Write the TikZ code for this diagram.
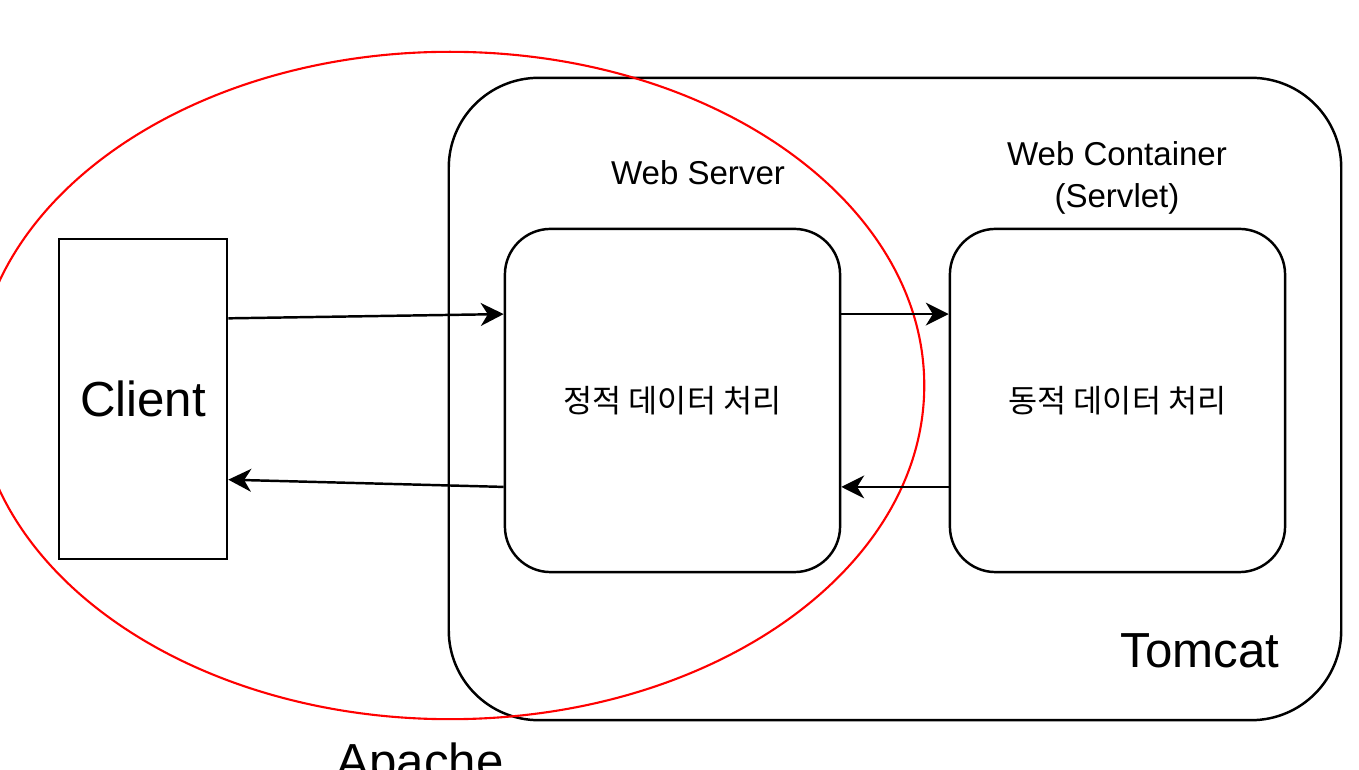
\documentclass[tikz,border=0pt]{standalone}
\usepackage{fontspec}
\setmainfont{Liberation Sans}
\newfontfamily\kr{Noto Sans CJK KR}
\usetikzlibrary{arrows.meta,calc,shapes.geometric}
\begin{document}
\begin{tikzpicture}[x=0.01cm,y=-0.01cm,
  outerbox/.style={draw, line width=0.7pt, rounded corners=25.6pt, inner sep=0pt, minimum width=8.92cm, minimum height=6.42cm},
  procbox/.style={draw, line width=0.7pt, rounded corners=13pt, inner sep=0pt, minimum width=3.35cm, minimum height=3.43cm, font=\kr\fontsize{9pt}{11pt}\selectfont},
  clientbox/.style={draw, line width=0.7pt, inner sep=0pt, minimum width=1.68cm, minimum height=3.2cm, font=\fontsize{14pt}{17pt}\selectfont},
  apacheshape/.style={draw=red, line width=0.6pt, ellipse, inner sep=0pt, minimum width=9.48cm, minimum height=6.67cm},
  biglabel/.style={font=\fontsize{14pt}{17pt}\selectfont, inner sep=0pt, anchor=base},
  smalllabel/.style={font=\fontsize{9.4pt}{11.7pt}\selectfont, inner sep=0pt, align=center},
  arr/.style={line width=0.7pt, -{Stealth[length=6.5pt, width=6.5pt, inset=2pt]}}
]
\useasboundingbox (0,0) rectangle (1359,770);

\node[outerbox] (tomcat) at (895,399) {};
\node[apacheshape] (apache) at (450,385.5) {};
\node[clientbox] (client) at (143,399) {Client};
\node[procbox] (ws) at (672.5,400.5) {정적 데이터 처리};
\node[procbox] (wc) at (1117.5,400.5) {동적 데이터 처리};

\node[smalllabel, anchor=base] (wslabel) at (698,185) {Web Server};
\node[smalllabel] (wclabel) at (1117,178) {Web Container\\(Servlet)};
\node[biglabel] (tomcatlabel) at (1200,668) {Tomcat};
\node[biglabel] (apachelabel) at (420,779) {Apache};

\draw[arr] ($(client.north east)!0.25!(client.south east)$) -- ($(ws.north west)!0.25!(ws.south west)$);
\draw[arr] ($(ws.north west)!0.75!(ws.south west)$) -- ($(client.north east)!0.75!(client.south east)$);
\draw[arr] ($(ws.north east)!0.25!(ws.south east)$) -- ($(wc.north west)!0.25!(wc.south west)$);
\draw[arr] ($(wc.north west)!0.75!(wc.south west)$) -- ($(ws.north east)!0.75!(ws.south east)$);
\end{tikzpicture}
\end{document}
